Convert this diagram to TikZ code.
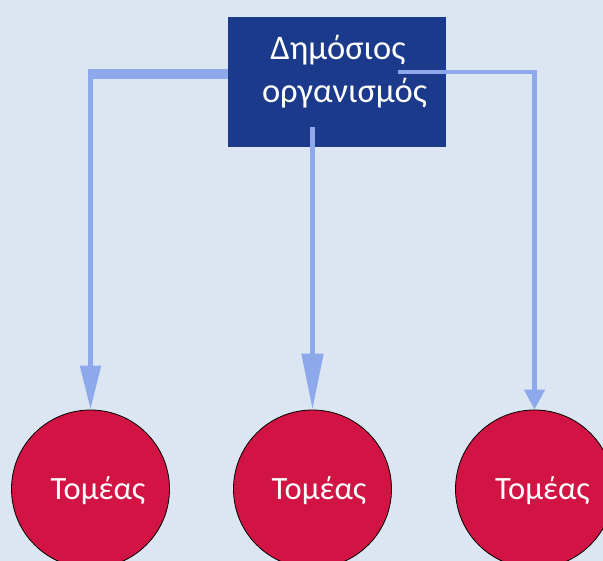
\documentclass[tikz,border=0pt]{standalone}
\usepackage{fontspec}
\setmainfont{Carlito}
\usetikzlibrary{arrows.meta}
\definecolor{bg}{RGB}{220,230,242}
\definecolor{boxblue}{RGB}{27,58,139}
\definecolor{connc}{RGB}{141,169,236}
\definecolor{sect}{RGB}{210,20,69}
\begin{document}
\begin{tikzpicture}[x=1pt,y=-1pt,
  sector/.style={circle,draw=black,line width=0.8pt,fill=sect,minimum size=158pt,inner sep=0pt},
  lbl/.style={text=white,font=\fontsize{32.5}{32.5}\selectfont,inner sep=0pt},
  boxlbl/.style={text=white,font=\fontsize{34.5}{34.5}\selectfont,inner sep=0pt},
  link/.style={draw=connc,line join=miter},
]
\fill[bg] (0,0) rectangle (603,561);
\useasboundingbox (0,0) rectangle (603,561);
% box
\node[fill=boxblue,minimum width=218pt,minimum height=130pt,inner sep=0pt,anchor=north west] (org) at (228,17) {};
\node[boxlbl,anchor=base] (t1) at (338,59.5) {Δημόσιος};
\node[boxlbl,anchor=base] (t2) at (344.5,103) {οργανισμός};
% sectors
\node[sector] (s1) at (90.5,489) {};
\node[sector] (s2) at (312.5,489) {};
\node[sector] (s3) at (534.5,489) {};
\node[lbl,anchor=base] (l1) at (98,499.5) {Τομέας};
\node[lbl,anchor=base] (l2) at (319,499.5) {Τομέας};
\node[lbl,anchor=base] (l3) at (542.5,499.5) {Τομέας};
% connectors
\coordinate (a1) at (228,74);
\coordinate (k1) at (88,74);
\coordinate (v1) at (90.5,69.3);
\draw[link,line width=9.5pt] (a1) -- (k1);
\draw[link,line width=5pt,-{Triangle[width=20pt,length=44pt]}] (v1) -- (s1.north);
\coordinate (a2) at (312.5,127);
\draw[link,line width=5pt,-{Triangle[width=21pt,length=56pt]}] (a2) -- (s2.north);
\coordinate (a3) at (398,72);
\coordinate (k3) at (534.5,72);
\draw[link,line width=4.5pt,-{Triangle[width=20pt,length=20pt]}] (a3) -- (k3) -- (s3.north);
\end{tikzpicture}
\end{document}
